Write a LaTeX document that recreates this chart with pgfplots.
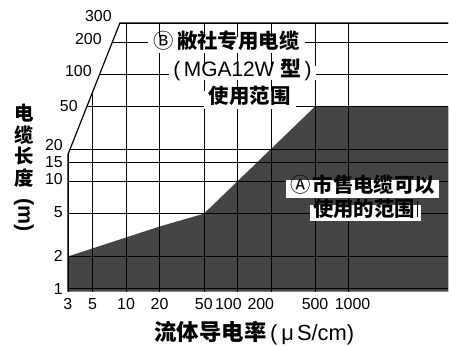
\documentclass[border=0pt]{standalone}
\usepackage{pgfplots}
\pgfplotsset{compat=1.18}
\usepackage{fontspec}
\setmainfont{Liberation Sans}
\newfontfamily\cjk{Noto Sans CJK SC}
\pgfplotsset{
  layers/mylayers/.define layer set={
    axis background,axis grid,axis ticks,axis lines,pre main,main,axis tick labels,axis descriptions,axis foreground
  }{
    grid style={/pgfplots/on layer=axis grid},
    tick style={/pgfplots/on layer=axis ticks},
    axis line style={/pgfplots/on layer=axis lines},
    label style={/pgfplots/on layer=axis descriptions},
    legend style={/pgfplots/on layer=axis descriptions},
    title style={/pgfplots/on layer=axis descriptions},
    colorbar style={/pgfplots/on layer=axis descriptions},
    ticklabel style={/pgfplots/on layer=axis tick labels},
    axis background@ style={/pgfplots/on layer=axis background},
    3d box foreground style={/pgfplots/on layer=axis foreground},
  },
}
\begin{document}
\begin{tikzpicture}
\begin{axis}[
  set layers=mylayers,
  scale only axis, width=381bp, height=269bp,
  xmode=log, ymode=log,
  xmin=3, xmax=7900, ymin=0.94, ymax=300,
  xtick={3,5,10,20,50,100,200,500,1000},
  xticklabels={3,5,10,20,50,{100\kern18bp},{200\kern20bp},500,{\kern8bp 1000}},
  ytick={1,2,5,10,15,20,50,100,200,300},
  yticklabels={1,2,{\raisebox{3bp}{5}},{\raisebox{4bp}{10}},{\raisebox{2bp}{15}},{\raisebox{8bp}{20}},{\kern60bp\raisebox{1bp}{50}\kern-15bp},{\kern60bp\raisebox{6bp}{100}\kern-29bp},{\kern60bp\raisebox{5bp}{200}\kern-39bp},{\kern60bp\raisebox{14bp}{300}\kern-49bp}},
  grid=major, grid style={black, line width=0.6pt},
  axis line style={draw=none}, tick style={draw=none},
  xticklabel style={font=\fontsize{16}{16}\selectfont, inner sep=0pt, yshift=-7bp},
  yticklabel style={font=\fontsize{16}{16}\selectfont, inner sep=0pt, xshift=-5bp},
  clip=false,
]
% range A: commercial cable usable
\addplot[draw=none, fill=black, fill opacity=0.73] coordinates {
  (3,0.94) (3,2) (20,3.8) (50,5) (500,50) (7900,50) (7900,0.94)} -- cycle;
% blank area left of range B
\addplot[draw=white, line width=0.5pt, fill=white] coordinates {
  (3,17.8) (8.8,300) (3,300)} -- cycle;
% boundary of range B
\addplot[black, line width=1.2pt, mark=none] coordinates {
  (3,0.94) (3,17.8) (8.8,300) (7900,300)};
% labels of range B
\node[fill=white, inner xsep=6bp, inner ysep=3bp, text height=0.85em, text depth=0.15em,
  font=\fontsize{20.5}{20.5}\selectfont\cjk\bfseries]
  at (rel axis cs:0.417,0.918) {{\mdseries Ⓑ}\hspace{3bp}敝社专用电缆};
\node[fill=white, inner xsep=4bp, inner ysep=2bp, text height=0.85em, text depth=0.15em,
  font=\fontsize{21}{21}\selectfont]
  at (rel axis cs:0.459,0.814) {(\,MGA12W {\cjk\bfseries 型}\,)};
\node[fill=white, inner xsep=5bp, inner ysep=4bp, text height=0.85em, text depth=0.15em,
  font=\fontsize{20.5}{20.5}\selectfont\cjk\bfseries]
  at (rel axis cs:0.478,0.714) {使用范围};
% labels of range A
\node[fill=white, inner xsep=4bp, inner ysep=4bp, text height=0.85em, text depth=0.15em,
  font=\fontsize{20.5}{20.5}\selectfont\cjk\bfseries]
  at (rel axis cs:0.775,0.383) {{\mdseries Ⓐ}\hspace{2bp}市售电缆可以};
\node[fill=white, inner xsep=3bp, inner ysep=3bp, text height=0.85em, text depth=0.15em,
  font=\fontsize{20.5}{20.5}\selectfont\cjk\bfseries]
  at (rel axis cs:0.782,0.294) {使用的范围\hspace{2bp}\rule[-0.05em]{0.6bp}{0.8em}};
% axis labels
\node[inner sep=0pt, align=center, font=\fontsize{19.5}{21.5}\selectfont\cjk\bfseries]
  at (rel axis cs:-0.1155,0.46) {电\\缆\\长\\度\\[-8bp]\rotatebox{-90}{\fontspec{Liberation Sans}\fontsize{21.5}{21.5}\selectfont(m)}};
\node[inner sep=0pt, font=\fontsize{22.5}{22.5}\selectfont\cjk\bfseries]
  at (rel axis cs:0.49,-0.156) {流体导电率{\fontspec{Liberation Sans}\fontsize{22}{22}\selectfont\mdseries\,(\hspace{4bp}μ\hspace{3bp}S/cm)}};
\end{axis}
\path (current axis.south west) +(-68bp,-53bp) (current axis.north east) +(0bp,23bp);
\end{tikzpicture}
\end{document}
